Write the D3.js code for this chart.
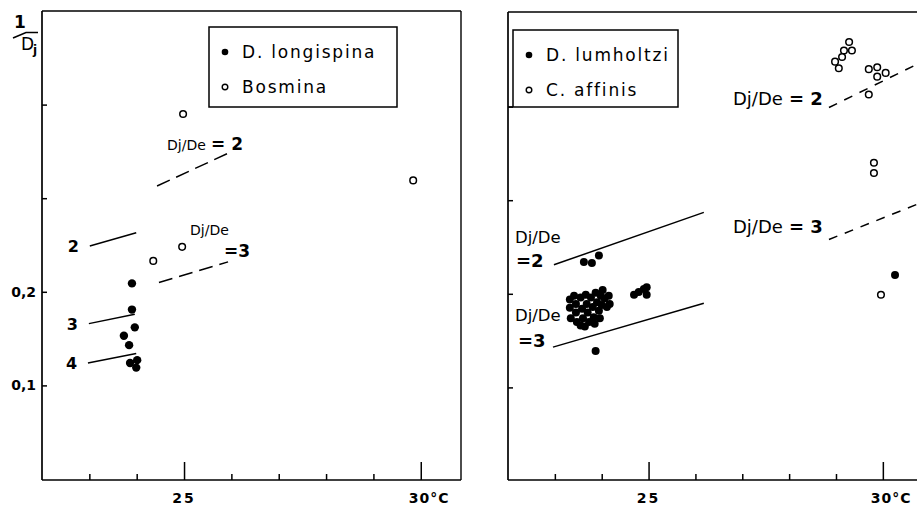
<!DOCTYPE html>
<html>
<head>
<meta charset="utf-8">
<script src="https://cdn.jsdelivr.net/npm/d3@7"></script>
<style>
  html, body { margin: 0; padding: 0; background: #fff; }
  svg { display: block; }
  text { font-family: "DejaVu Sans", "Liberation Sans", sans-serif; fill: #000; }
</style>
</head>
<body>
<svg id="chart" width="917" height="507"></svg>
<script>
// ---- Left panel: D. longispina (filled) and Bosmina (open), 1/Dj against temperature (°C)
const longispinaTemp = [23.90, 23.90, 23.96, 23.73, 23.84, 23.86, 24.01, 23.99];
const longispinaInvDj = [0.209, 0.181, 0.162, 0.153, 0.143, 0.124, 0.127, 0.119];
const bosminaTemp = [24.98, 29.84, 24.96, 24.35];
const bosminaInvDj = [0.390, 0.319, 0.248, 0.233];

// Reference lines Dj/De = n in the left panel
const leftSolidLabels = ["2", "3", "4"];
const leftSolidTemp = [[23.01, 23.99], [22.99, 23.96], [22.97, 23.99]];
const leftSolidInvDj = [[0.249, 0.263], [0.166, 0.176], [0.124, 0.134]];
const leftDashedLabels = ["2", "3"];
const leftDashedTemp = [[24.43, 25.93], [24.47, 25.93]];
const leftDashedInvDj = [[0.313, 0.348], [0.210, 0.232]];

// ---- Right panel: D. lumholtzi (filled) and C. affinis (open)
const lumholtziTemp = [
  23.32, 23.32, 23.34, 23.45, 23.45, 23.47, 23.55, 23.55, 23.58, 23.60,
  23.66, 23.68, 23.70, 23.73, 23.77, 23.81, 23.83, 23.87, 23.90, 23.94,
  23.98, 24.00, 24.02, 24.06, 24.11, 24.15, 23.96, 23.41, 23.64, 23.85, 24.17,
  23.62, 23.79, 23.94,
  23.87,
  24.69, 24.79, 24.90, 24.96, 24.96,
  30.26
];
const lumholtziInvDj = [
  0.194, 0.185, 0.174, 0.189, 0.180, 0.170, 0.166, 0.196, 0.184, 0.174,
  0.199, 0.189, 0.180, 0.170, 0.196, 0.186, 0.175, 0.201, 0.191, 0.182,
  0.198, 0.188, 0.204, 0.195, 0.186, 0.198, 0.174, 0.198, 0.165, 0.168, 0.189,
  0.234, 0.233, 0.241,
  0.139,
  0.199, 0.202, 0.205, 0.207, 0.199,
  0.220
];
const affinisTemp = [29.28, 29.17, 29.34, 29.13, 28.98, 29.06, 29.70, 29.88, 30.06, 29.88, 29.70, 29.81, 29.81, 29.96];
const affinisInvDj = [0.469, 0.460, 0.460, 0.453, 0.448, 0.441, 0.440, 0.442, 0.436, 0.432, 0.413, 0.340, 0.329, 0.199];

// Reference lines Dj/De = n in the right panel
const rightSolidLabels = ["2", "3"];
const rightSolidTemp = [[22.98, 26.18], [22.96, 26.18]];
const rightSolidInvDj = [[0.231, 0.287], [0.143, 0.190]];
const rightDashedLabels = ["2", "3"];
const rightDashedTemp = [[28.85, 30.80], [28.85, 30.80]];
const rightDashedInvDj = [[0.399, 0.447], [0.258, 0.297]];

// ---- Axes
const xTicks = [23, 24, 25, 26, 27, 28, 29, 30];
const xMajor = [25, 30];
const yTicks = [0.1, 0.2, 0.3, 0.4];
const yLabelled = [0.1, 0.2];
const yTickText = ["0,1", "0,2"];

const svg = d3.select("#chart");

const pts = (t, v) => t.map((d, i) => ({ t: d, v: v[i] }));
const segs = (ts, vs, labels) => ts.map((t, i) => ({ a: [t[0], vs[i][0]], b: [t[1], vs[i][1]], label: labels[i] }));

function panel(opts) {
  const x = d3.scaleLinear().domain(opts.xDomain).range(opts.xRange);
  const y = d3.scaleLinear().domain([0, 0.5]).range(opts.yRange);
  const g = svg.append("g");
  const [x0, x1] = opts.xRange;
  const yb = opts.yBottom, yt = opts.yTop;

  // frame
  const frame = g.append("g").attr("stroke", "#000").attr("stroke-width", 1.7).attr("fill", "none");
  frame.append("line").attr("x1", x0).attr("x2", x1).attr("y1", yb).attr("y2", yb);
  frame.append("line").attr("x1", x0).attr("x2", x1).attr("y1", yt).attr("y2", yt).attr("stroke-width", 1.4);
  frame.append("line").attr("x1", x0).attr("x2", x0).attr("y1", yt).attr("y2", yb);
  if (opts.rightEdge) frame.append("line").attr("x1", x1).attr("x2", x1).attr("y1", yt).attr("y2", yb).attr("stroke-width", 1.4);

  // x axis, ticks pointing inwards; the whole degrees 25 and 30 get long ticks
  const xa = g.append("g").attr("transform", `translate(0,${yb})`)
    .call(d3.axisBottom(x).tickValues(xTicks).tickSize(-6).tickFormat(""));
  xa.select(".domain").remove();
  xa.selectAll(".tick line").attr("stroke-width", 1.5)
    .attr("y2", d => xMajor.includes(d) ? -18 : -6);

  // y axis ticks
  const ya = g.append("g").attr("transform", `translate(${x0},0)`)
    .call(d3.axisLeft(y).tickValues(yTicks).tickSize(-5).tickFormat(""));
  ya.select(".domain").remove();
  ya.selectAll(".tick line").attr("stroke-width", 1.5);

  // x tick labels
  g.append("text").attr("x", x(25)).attr("y", 503).attr("text-anchor", "middle")
    .attr("font-size", 14).attr("font-weight", "bold").attr("letter-spacing", 2).text("25");
  g.append("text").attr("x", x(30) - 12).attr("y", 503)
    .attr("font-size", 14).attr("font-weight", "bold").attr("letter-spacing", 1).text("30°C");

  return { g, x, y };
}

const L = panel({ xDomain: [22, 30.85], xRange: [42, 461], yRange: [479, 11], yTop: 11, yBottom: 480, rightEdge: true });
const R = panel({ xDomain: [22, 31], xRange: [508, 929.7], yRange: [481, 13], yTop: 12, yBottom: 480, rightEdge: false });

// y labels on the left panel
yLabelled.forEach((v, i) => {
  L.g.append("text").attr("x", 36).attr("y", L.y(v) + 5).attr("text-anchor", "end")
    .attr("font-size", 14).attr("font-weight", "bold").text(yTickText[i]);
});

// y axis title 1/Dj
const title = svg.append("g");
title.append("text").attr("x", 14).attr("y", 28).attr("font-size", 17).attr("font-weight", "bold").text("1");
title.append("path").attr("d", "M13,38 L26,32.5 L38,32.5").attr("stroke", "#000").attr("stroke-width", 1.6).attr("fill", "none");
title.append("text").attr("x", 21).attr("y", 50).attr("font-size", 17).text("D");
title.append("text").attr("x", 33).attr("y", 54).attr("font-size", 12).attr("font-weight", "bold").text("j");

// reference lines
function refLines(P, data, dash) {
  P.g.append("g").selectAll("line").data(data).join("line")
    .attr("x1", d => P.x(d.a[0])).attr("y1", d => P.y(d.a[1]))
    .attr("x2", d => P.x(d.b[0])).attr("y2", d => P.y(d.b[1]))
    .attr("stroke", "#000").attr("stroke-width", 1.5)
    .attr("stroke-dasharray", dash || null);
}
const lSolid = segs(leftSolidTemp, leftSolidInvDj, leftSolidLabels);
const lDashed = segs(leftDashedTemp, leftDashedInvDj, leftDashedLabels);
const rSolid = segs(rightSolidTemp, rightSolidInvDj, rightSolidLabels);
const rDashed = segs(rightDashedTemp, rightDashedInvDj, rightDashedLabels);
refLines(L, lSolid);
refLines(L, lDashed, "14,7");
refLines(R, rSolid);
refLines(R, rDashed, "9,8");

// labels of the reference lines
function small(P, x, y, s, size) {
  P.g.append("text").attr("x", x).attr("y", y).attr("font-size", size || 14).text(s);
}
function big(P, x, y, s, size) {
  P.g.append("text").attr("x", x).attr("y", y).attr("font-size", size || 16).attr("font-weight", "bold").text(s);
}
// left, solid: plain numbers at the start of each line
lSolid.forEach(d => big(L, L.x(d.a[0]) - 22, L.y(d.a[1]) + 6, d.label));
// left, dashed
small(L, 167, 150, "Dj/De");
big(L, 211, 150, "= 2", 17);
small(L, 190, 235, "Dj/De");
big(L, 224, 257, "=3", 17);
// right, solid
small(R, 515, 243, "Dj/De", 16.5);
big(R, 516, 267, "=2", 18);
small(R, 515, 321, "Dj/De", 16.5);
big(R, 518, 347, "=3", 18);
// right, dashed
small(R, 733, 105, "Dj/De", 18);
big(R, 789, 105, "= 2", 18);
small(R, 733, 233, "Dj/De", 18);
big(R, 789, 233, "= 3", 18);

// points
function filled(P, data, r) {
  P.g.append("g").selectAll("circle").data(data).join("circle")
    .attr("cx", d => P.x(d.t)).attr("cy", d => P.y(d.v)).attr("r", r).attr("fill", "#000");
}
function open(P, data, r) {
  P.g.append("g").selectAll("circle").data(data).join("circle")
    .attr("cx", d => P.x(d.t)).attr("cy", d => P.y(d.v)).attr("r", r)
    .attr("fill", "#fff").attr("stroke", "#000").attr("stroke-width", 1.5);
}
filled(L, pts(longispinaTemp, longispinaInvDj), 4.2);
open(L, pts(bosminaTemp, bosminaInvDj), 3.3);
filled(R, pts(lumholtziTemp, lumholtziInvDj), 4);
open(R, pts(affinisTemp, affinisInvDj), 3.3);

// legends
function legend(x0, y0, w, h, entries, extendLeftTo) {
  const lg = svg.append("g");
  lg.append("rect").attr("x", x0).attr("y", y0).attr("width", w).attr("height", h)
    .attr("fill", "#fff").attr("stroke", "#000").attr("stroke-width", 1.5);
  if (extendLeftTo != null)
    lg.append("line").attr("x1", extendLeftTo).attr("x2", x0).attr("y1", y0 + h).attr("y2", y0 + h)
      .attr("stroke", "#000").attr("stroke-width", 1.5);
  entries.forEach((e, i) => {
    const cy = y0 + 25 + i * 35;
    const c = lg.append("circle").attr("cx", x0 + 16).attr("cy", cy).attr("r", e.filled ? 3.3 : 2.8);
    if (e.filled) c.attr("fill", "#000");
    else c.attr("fill", "#fff").attr("stroke", "#000").attr("stroke-width", 1.4);
    lg.append("text").attr("x", x0 + 33).attr("y", cy + 6).attr("font-size", 17)
      .attr("letter-spacing", 1.8).text(e.name);
  });
}
legend(209, 27, 188, 80, [{ name: "D. longispina", filled: true }, { name: "Bosmina", filled: false }]);
legend(513, 30, 165, 77, [{ name: "D. lumholtzi", filled: true }, { name: "C. affinis", filled: false }], 508);
</script>
</body>
</html>
